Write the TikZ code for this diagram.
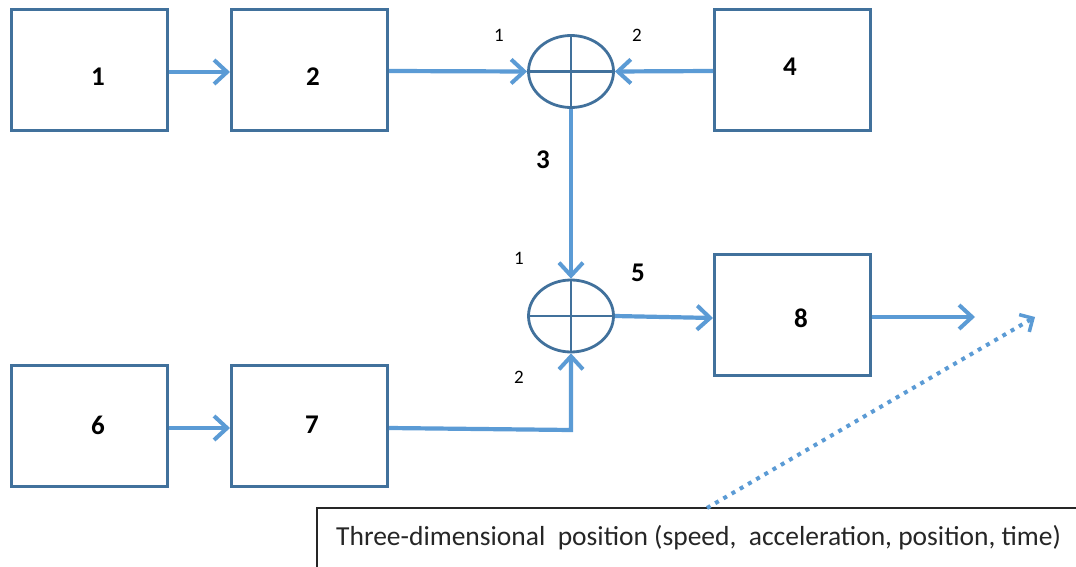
\documentclass[tikz,border=0pt]{standalone}
\usepackage{fontspec}
\setmainfont{Carlito}
\usetikzlibrary{shapes.geometric,arrows.meta}
\definecolor{boxblue}{RGB}{65,113,156}
\definecolor{arrblue}{RGB}{91,155,213}
\tikzset{
  blk/.style={draw=boxblue,line width=3pt,minimum width=156pt,minimum height=121pt,inner sep=0pt},
  blab/.style={font=\fontsize{27}{29}\selectfont\bfseries,inner sep=0pt},
  sumj/.style={draw=boxblue,ellipse,line width=2.8pt,minimum width=85pt,minimum height=72pt,inner sep=0pt},
  crossl/.style={draw=boxblue,line width=2.6pt},
  conn/.style={draw=arrblue,line width=4.2pt,-{Straight Barb[length=13pt,width=24pt,line width=4pt]}},
  dotconn/.style={draw=arrblue,line width=4pt,dash pattern=on 4pt off 5.5pt,-{Straight Barb[length=10pt,width=20pt,line width=3.5pt]}},
  small/.style={font=\fontsize{19}{21}\selectfont},
  bold/.style={font=\fontsize{27}{29}\selectfont\bfseries},
}
\begin{document}
\begin{tikzpicture}[x=1pt,y=-1pt]
\useasboundingbox (0,0) rectangle (1076,567);
\clip (0,0) rectangle (1076,567);
\fill[white] (0,0) rectangle (1076,567);
\node[blk] (b1) at (89,70) {};
\node[blk] (b2) at (309.5,70) {};
\node[blk] (b4) at (792.5,70) {};
\node[blk] (b6) at (89,425.5) {};
\node[blk] (b7) at (309.5,425.5) {};
\node[blk] (b8) at (792.5,315) {};
\node[blab] (t1) at (98,77) {1};
\node[blab] (t2) at (313,77) {2};
\node[blab] (t4) at (790,67) {4};
\node[blab] (t6) at (98,425) {6};
\node[blab] (t7) at (312,425) {7};
\node[blab] (t8) at (801,318) {8};
\node[sumj] (s1) at (571,71.5) {};
\node[sumj] (s2) at (571,316) {};
\draw[crossl] (s1.west)--(s1.east) (s1.north)--(s1.south);
\draw[crossl] (s2.west)--(s2.east) (s2.north)--(s2.south);
\draw[conn] (b1.east |- 0,72) -- (b2.west |- 0,72);
\draw[conn] (b2.east |- 0,71) -- (s1.west);
\draw[conn] (b4.west |- 0,71) -- (s1.east);
\draw[conn] (s1.south) -- (s2.north);
\draw[conn] (s2.east) -- (b8.west |- 0,318);
\coordinate (out) at (975,317);
\draw[conn] (b8.east |- 0,317) -- (out);
\draw[conn] (b6.east |- 0,428) -- (b7.west |- 0,428);
\coordinate (corner) at (571,430);
\draw[conn] (b7.east |- 0,428) -- (corner) -- (s2.south);
\node[small] (l1) at (499,35) {1};
\node[small] (l2) at (637,35) {2};
\node[bold] (l3) at (543,160) {3};
\node[small] (l4) at (519,258) {1};
\node[bold] (l5) at (638,273) {5};
\node[small] (l6) at (519,377) {2};
\draw[black!85,line width=1.5pt] (317,580) -- (317,508) -- (1090,508);
\node[anchor=west,font=\fontsize{27.5}{30}\selectfont,text=black!85,inner sep=0pt] (txt) at (336,538) {Three-dimensional\ \ position (speed,\ \ acceleration, position, time)};
\coordinate (dstart) at (707,508);
\coordinate (dend) at (1035,317);
\draw[dotconn] (dstart) -- (dend);
\end{tikzpicture}
\end{document}
